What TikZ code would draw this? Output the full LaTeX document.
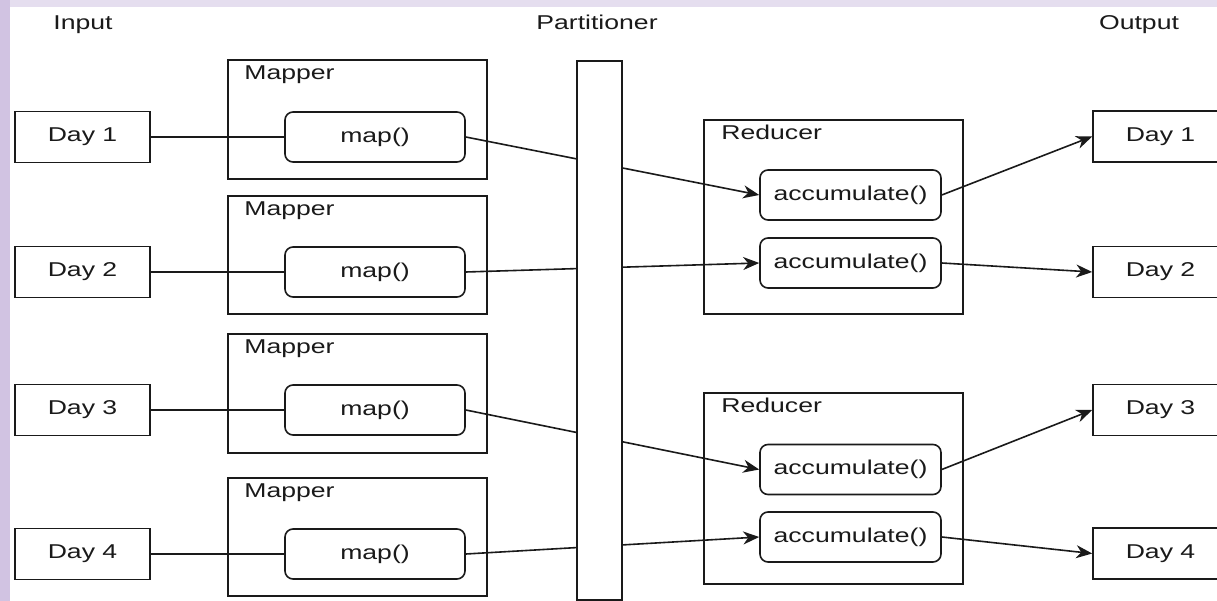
\documentclass[tikz,border=0pt]{standalone}
\usepackage{fontspec}
\setmainfont{Liberation Sans}[FakeStretch=1.33]
\usetikzlibrary{arrows.meta}
\pgfdeclarelayer{bg}
\pgfdeclarelayer{lines}
\pgfsetlayers{bg,lines,main}
\definecolor{lavtop}{HTML}{E5DEEF}
\definecolor{lavside}{HTML}{D1C3E2}
\definecolor{ink}{HTML}{1A1A1A}
\tikzset{
  every node/.style={font=\fontsize{20}{23}\selectfont, text=ink, inner sep=0pt},
  daybox/.style={draw=ink, line width=1.6pt, fill=white, minimum width=135pt, minimum height=51pt},
  groupbox/.style={draw=ink, line width=1.6pt, minimum width=259pt},
  fnbox/.style={draw=ink, line width=1.6pt, fill=white, rounded corners=8pt, minimum height=50pt},
  grouplabel/.style={anchor=base west},
  header/.style={anchor=base},
  wire/.style={draw=ink, line width=1.6pt},
  flow/.style={wire, -{Stealth[length=16pt,width=13pt,inset=5pt]}}
}
\begin{document}
\begin{tikzpicture}[x=1pt, y=-1pt]
\useasboundingbox (0,0) rectangle (1217,601);

% page backdrop with a lavender margin on the top and left
\begin{pgfonlayer}{bg}
  \fill[lavtop] (0,0) rectangle (1217,601);
  \fill[lavside] (0,0) rectangle (10,601);
  \fill[white] (10,7) rectangle (1217,601);
\end{pgfonlayer}

% column headings
\node[header] (hin)  at (83,30)   {Input};
\node[header] (hpar) at (597,30)  {Partitioner};
\node[header] (hout) at (1139,30) {Output};

% input days
\node[daybox] (in1) at (82.5,137) {Day 1};
\node[daybox] (in2) at (82.5,272) {Day 2};
\node[daybox] (in3) at (82.5,410) {Day 3};
\node[daybox] (in4) at (82.5,554) {Day 4};

% mapper groups
\node[groupbox, minimum height=119pt] (mp1) at (357.5,119.5) {};
\node[groupbox, minimum height=118pt] (mp2) at (357.5,255) {};
\node[groupbox, minimum height=119pt] (mp3) at (357.5,393.5) {};
\node[groupbox, minimum height=118pt] (mp4) at (357.5,537) {};
\foreach \i in {1,...,4}
  \node[grouplabel] (mpl\i) at ([xshift=17pt,yshift=-20pt]mp\i.north west) {Mapper};

\node[fnbox, minimum width=180pt] (map1) at (375,137) {map()};
\node[fnbox, minimum width=180pt] (map2) at (375,272) {map()};
\node[fnbox, minimum width=180pt] (map3) at (375,410) {map()};
\node[fnbox, minimum width=180pt] (map4) at (375,554) {map()};

% partitioner bar
\node[draw=ink, line width=1.6pt, fill=white, minimum width=45pt, minimum height=539pt] (part) at (599.5,330.5) {};

% reducer groups
\node[groupbox, minimum height=194pt] (rd1) at (833.5,217) {};
\node[groupbox, minimum height=191pt] (rd2) at (833.5,488.5) {};
\foreach \i in {1,2}
  \node[grouplabel] (rdl\i) at ([xshift=18pt,yshift=-20pt]rd\i.north west) {Reducer};

\node[fnbox, minimum width=181pt] (acc1) at (850.5,195) {accumulate()};
\node[fnbox, minimum width=181pt] (acc2) at (850.5,263) {accumulate()};
\node[fnbox, minimum width=181pt] (acc3) at (850.5,469.5) {accumulate()};
\node[fnbox, minimum width=181pt] (acc4) at (850.5,537) {accumulate()};

% output days
\node[daybox] (out1) at (1160.5,136.5) {Day 1};
\node[daybox] (out2) at (1160.5,272) {Day 2};
\node[daybox] (out3) at (1160.5,410) {Day 3};
\node[daybox] (out4) at (1160.5,553.5) {Day 4};

% connectors
\begin{pgfonlayer}{lines}
  \foreach \i in {1,...,4}
    \draw[wire] (in\i.east) -- (map\i.west);
  \draw[flow] (map1.east) -- (acc1.west);
  \draw[flow] (map2.east) -- (acc2.west);
  \draw[flow] (map3.east) -- (acc3.west);
  \draw[flow] (map4.east) -- (acc4.west);
  \foreach \i in {1,...,4}
    \draw[flow] (acc\i.east) -- (out\i.west);
\end{pgfonlayer}
\end{tikzpicture}
\end{document}
